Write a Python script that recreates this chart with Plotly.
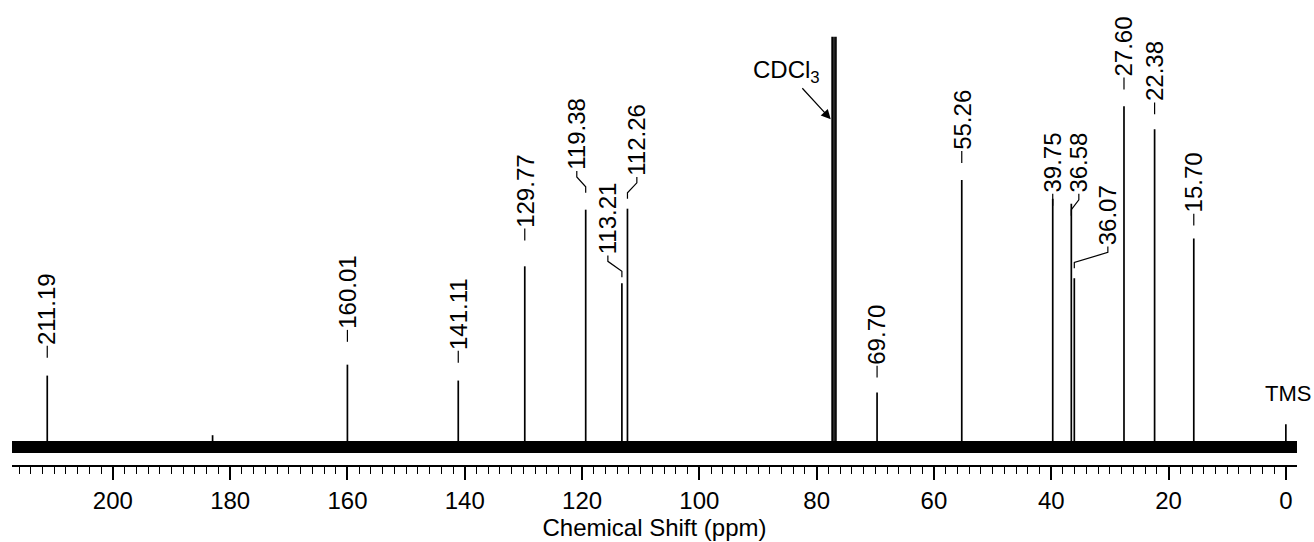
import plotly.graph_objects as go

# ---- data ----
peak_ppm = [211.19, 183.0, 160.01, 141.11, 129.77, 119.38, 113.21, 112.26,
            77.36, 77.04, 76.72, 69.70, 55.26, 39.75, 36.58, 36.07,
            27.60, 22.38, 15.70, 0.00]
peak_int = [72, 12, 83, 67, 182, 239, 165, 240,
            413, 413, 413, 55, 269, 250, 245, 170,
            343, 320, 210, 23]

label_val = [211.19, 160.01, 141.11, 129.77, 119.38, 113.21, 112.26,
             69.70, 55.26, 39.75, 36.58, 36.07, 27.60, 22.38, 15.70]
label_txt = ["211.19", "160.01", "141.11", "129.77", "119.38", "113.21", "112.26",
             "69.70", "55.26", "39.75", "36.58", "36.07", "27.60", "22.38", "15.70"]

# label layout (position of rotated label text, bottom edge)
label_pos = [211.19, 160.01, 141.11, 129.77, 120.9, 115.6, 110.66,
             69.70, 55.26, 39.75, 35.3, 30.35, 27.60, 22.38, 15.70]
label_base = [102, 118, 97, 220, 278, 193, 272,
              82, 298, 255, 255, 202, 372, 347, 235]

x_range = [217.2, -1.9]
y_range = [-18, 440]
FONT = "Arial, Liberation Sans, sans-serif"

fig = go.Figure()

# baseline (noise band)
fig.add_trace(go.Scatter(x=x_range, y=[0, 0], mode="lines",
                         line=dict(color="black", width=12),
                         hoverinfo="skip", showlegend=False))

# peaks as sticks
px, py = [], []
for p, h in zip(peak_ppm, peak_int):
    px += [p, p, None]
    py += [0, h, None]
fig.add_trace(go.Scatter(x=px, y=py, mode="lines",
                         line=dict(color="black", width=1.7),
                         hoverinfo="skip", showlegend=False))

# label connectors
cx, cy = [], []
for v, lp, b in zip(label_val, label_pos, label_base):
    if abs(lp - v) < 0.01:
        cx += [v, v, None]
        cy += [b, b - 12, None]
    else:
        cx += [lp, lp, v, v, None]
        cy += [b, b - 6, b - 16, b - 22, None]
fig.add_trace(go.Scatter(x=cx, y=cy, mode="lines",
                         line=dict(color="black", width=1.2),
                         hoverinfo="skip", showlegend=False))

annotations = []
for t, lp, b in zip(label_txt, label_pos, label_base):
    annotations.append(dict(x=lp, y=b, xref="x", yref="y", text=t,
                            textangle=-90, showarrow=False,
                            xanchor="center", yanchor="bottom", borderpad=0,
                            font=dict(family=FONT, size=24, color="black")))

# TMS label
annotations.append(dict(x=-0.4, y=40, xref="x", yref="y", text="TMS",
                        showarrow=False, xanchor="center", yanchor="bottom",
                        borderpad=0,
                        font=dict(family=FONT, size=22, color="black")))
# CDCl3 label with arrow
annotations.append(dict(x=77.6, y=330, xref="x", yref="y", text="CDCl<sub>3</sub>",
                        showarrow=True, arrowhead=2, arrowsize=1.6, arrowwidth=1.2,
                        arrowcolor="black", ax=-44, ay=-48, axref="pixel", ayref="pixel",
                        font=dict(family=FONT, size=24, color="black")))

fig.update_layout(
    width=1314, height=542,
    margin=dict(l=12, r=17, t=10, b=74),
    plot_bgcolor="white", paper_bgcolor="white",
    annotations=annotations,
    xaxis=dict(range=x_range, showgrid=False, zeroline=False,
               showline=True, linecolor="black", linewidth=1.5,
               ticks="outside", ticklen=13, tickwidth=1.5, tickcolor="black",
               tick0=0, dtick=20,
               minor=dict(dtick=2, ticklen=7, tickwidth=1.2, tickcolor="black", ticks="outside"),
               tickfont=dict(family=FONT, size=24, color="black"),
               title=dict(text="Chemical Shift (ppm)", standoff=2,
                          font=dict(family=FONT, size=24, color="black"))),
    yaxis=dict(range=y_range, visible=False, showgrid=False, zeroline=False),
)

fig.write_html("out.html")
